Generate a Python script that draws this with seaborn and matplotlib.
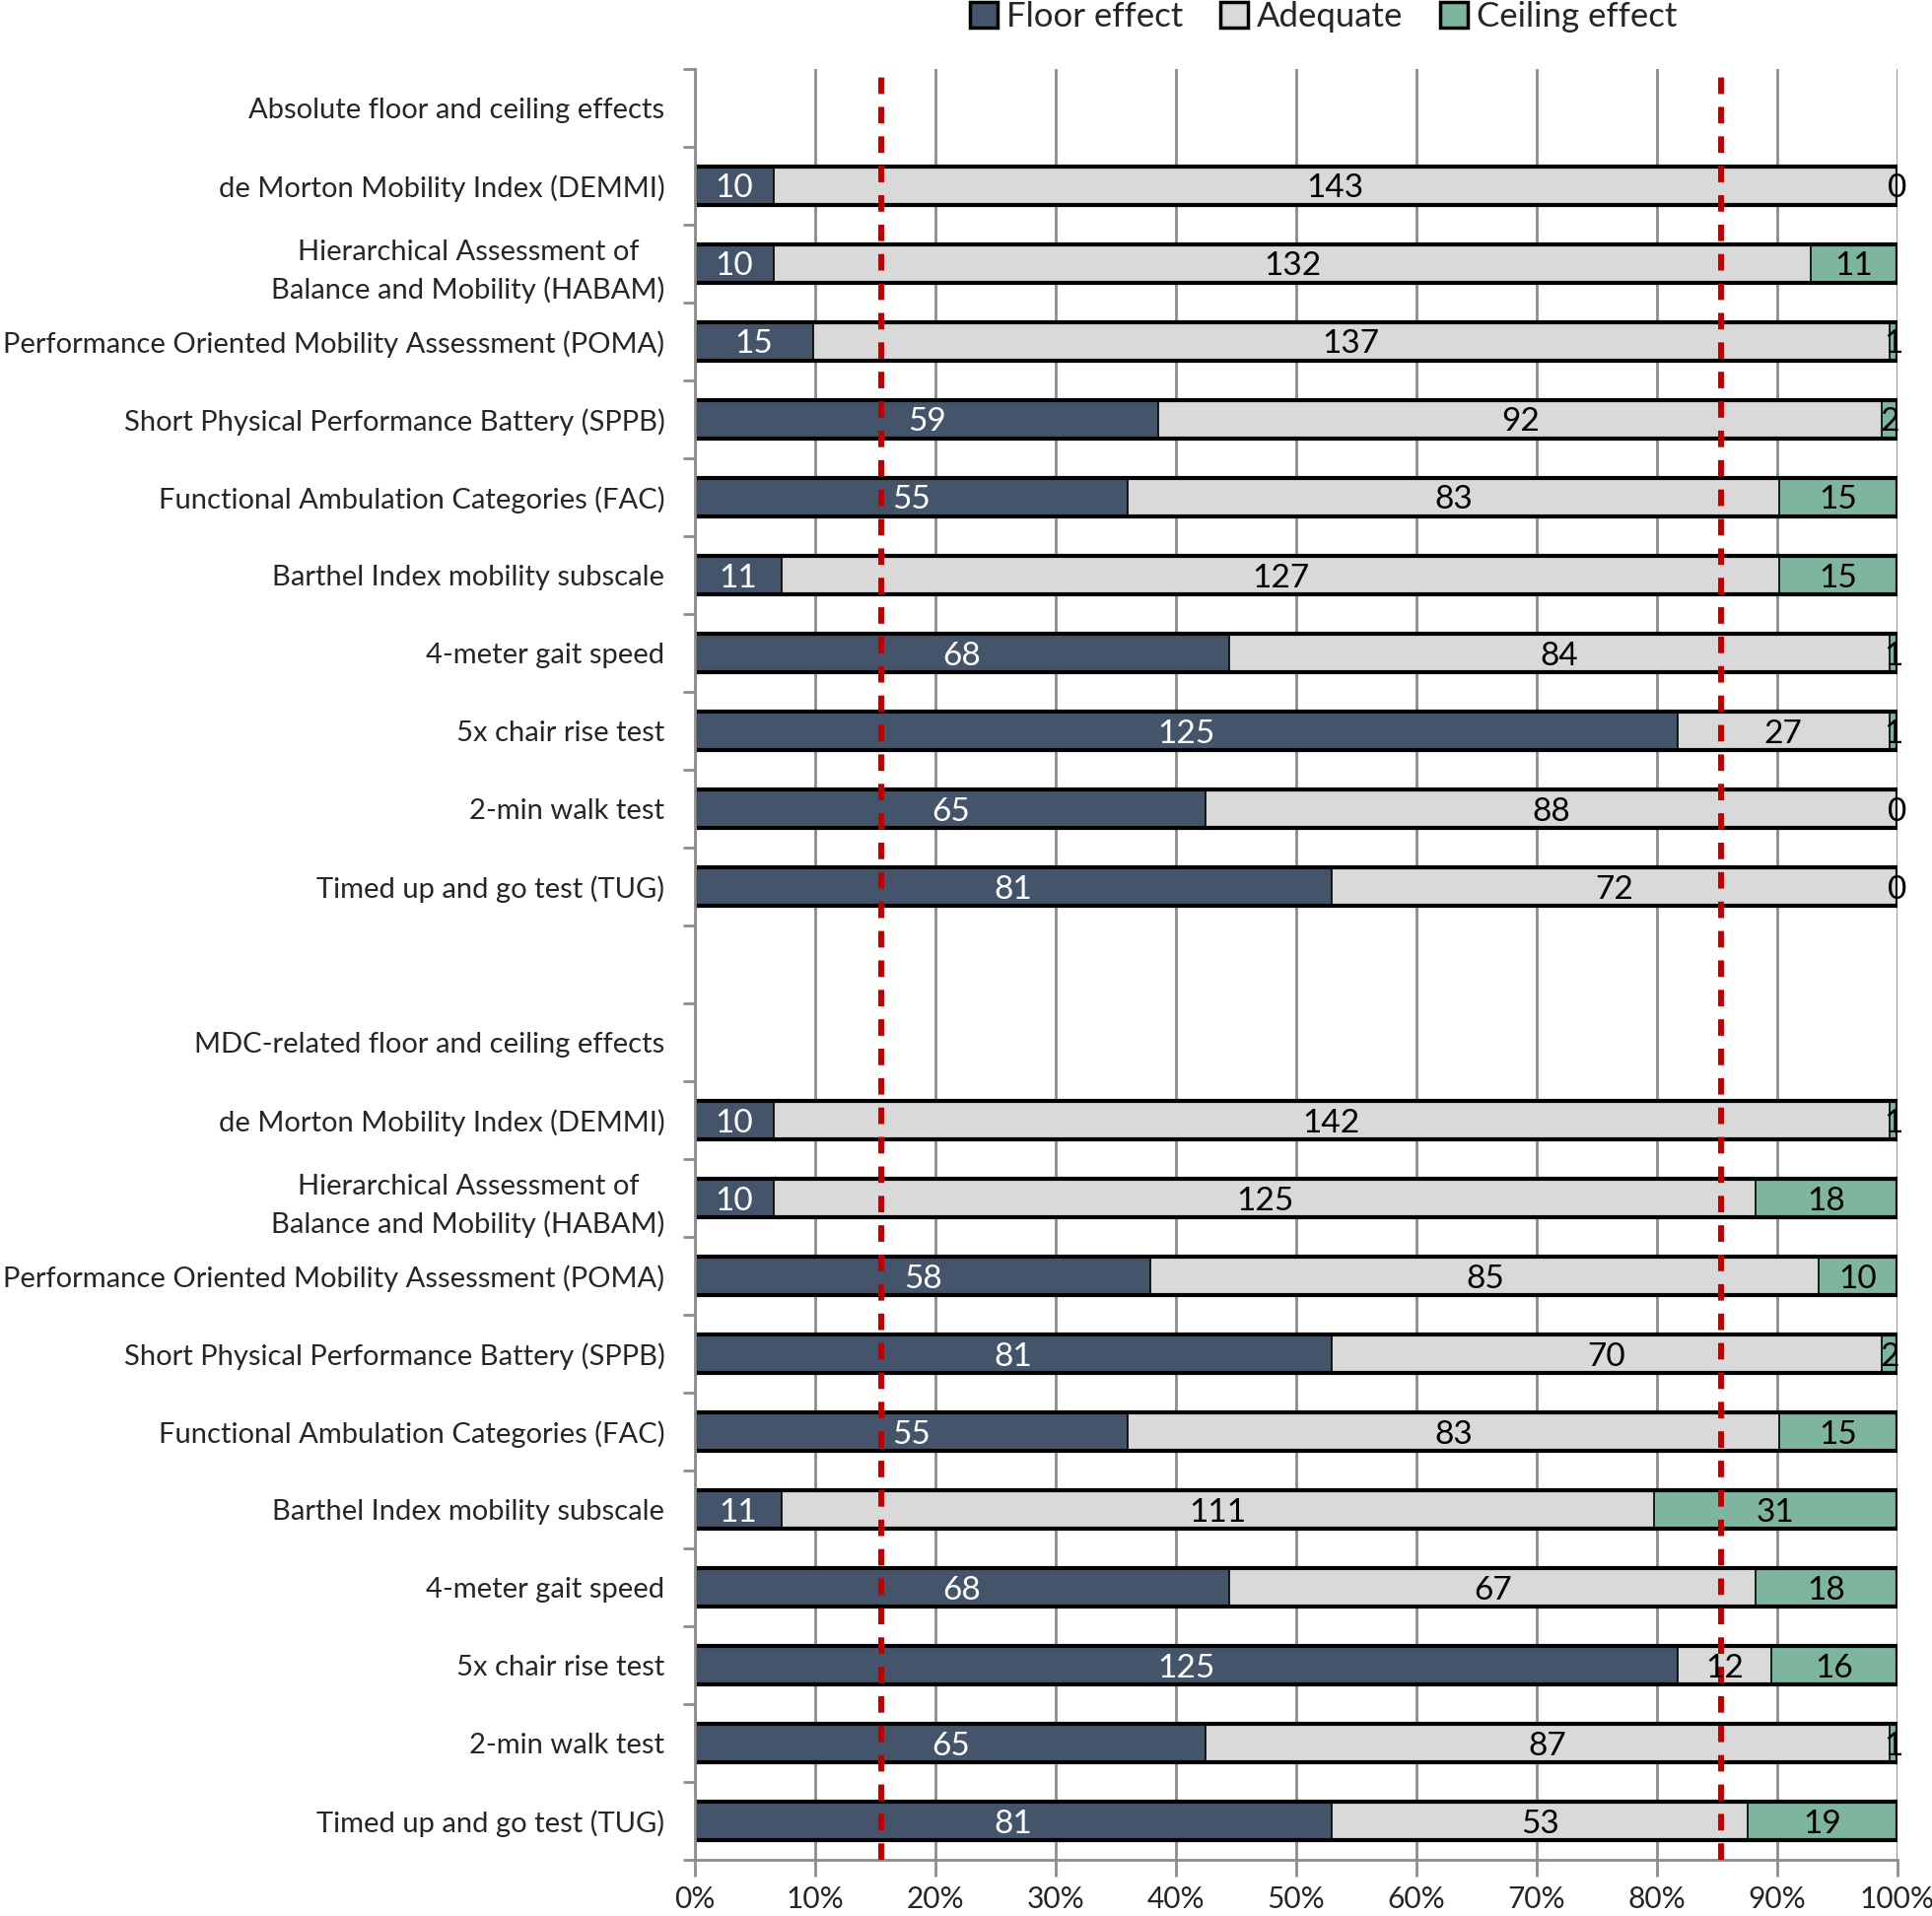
import numpy as np
import pandas as pd
import matplotlib
matplotlib.use("Agg")
import matplotlib.pyplot as plt
import seaborn as sns
from matplotlib.patches import Patch

# Data
measures = [
    "de Morton Mobility Index (DEMMI)",
    "Hierarchical Assessment of\nBalance and Mobility (HABAM)",
    "Performance Oriented Mobility Assessment (POMA)",
    "Short Physical Performance Battery (SPPB)",
    "Functional Ambulation Categories (FAC)",
    "Barthel Index mobility subscale",
    "4-meter gait speed",
    "5x chair rise test",
    "2-min walk test",
    "Timed up and go test (TUG)",
]
abs_floor = [10, 10, 15, 59, 55, 11, 68, 125, 65, 81]
abs_adequate = [143, 132, 137, 92, 83, 127, 84, 27, 88, 72]
abs_ceiling = [0, 11, 1, 2, 15, 15, 1, 1, 0, 0]
mdc_floor = [10, 10, 58, 81, 55, 11, 68, 125, 65, 81]
mdc_adequate = [142, 125, 85, 70, 83, 111, 67, 12, 87, 53]
mdc_ceiling = [1, 18, 10, 2, 15, 31, 18, 16, 1, 19]
thresholds = [15.5, 85.3]

row_labels = (["Absolute floor and ceiling effects"] + measures + [""]
              + ["MDC-related floor and ceiling effects"] + measures)
gap = [np.nan]
df = pd.DataFrame({
    "row": np.arange(len(row_labels)),
    "floor": gap + abs_floor + gap + gap + mdc_floor,
    "adequate": gap + abs_adequate + gap + gap + mdc_adequate,
    "ceiling": gap + abs_ceiling + gap + gap + mdc_ceiling,
})
total = df["floor"] + df["adequate"] + df["ceiling"]
df["p_floor"] = df["floor"] / total * 100
df["p_adeq"] = (df["floor"] + df["adequate"]) / total * 100
df["p_all"] = total / total * 100

c_floor, c_adeq, c_ceil = "#44546A", "#D9D9D9", "#7DB59E"
order = list(df["row"])

sns.set_theme(style="white")
plt.rcParams["font.family"] = ["Lato", "DejaVu Sans"]

fig = plt.figure(figsize=(19.6, 19.44), dpi=100)
ax = fig.add_axes([0.3597, 0.0293, 0.6224, 0.9347])

kw = dict(data=df, y="row", orient="y", order=order, width=0.5, saturation=1,
          errorbar=None, ax=ax, edgecolor="black", linewidth=1.2)
sns.barplot(x="p_all", color=c_ceil, **kw)
sns.barplot(x="p_adeq", color=c_adeq, **kw)
sns.barplot(x="p_floor", color=c_floor, **kw)
kw.update(linewidth=3)
sns.barplot(x="p_all", color="black", fill=False, **kw)

# value labels
fs = 24
for _, r in df.dropna().iterrows():
    y = r["row"]
    ax.text(r["p_floor"] / 2, y, f"{int(r['floor'])}", ha="center",
            va="center_baseline", color="white", fontsize=fs, zorder=6)
    ax.text((r["p_floor"] + r["p_adeq"]) / 2, y, f"{int(r['adequate'])}",
            ha="center", va="center_baseline", color="black", fontsize=fs, zorder=6)
    ax.text((r["p_adeq"] + 100) / 2, y, f"{int(r['ceiling'])}",
            ha="center", va="center_baseline", color="black", fontsize=fs, zorder=6)

for t in thresholds:
    ax.axvline(t, color="#C00000", lw=4.3, ls=(0, (2.8, 2.2)), zorder=5,
               ymin=0, ymax=0.997)

n = len(row_labels)
ax.set_ylim(n - 0.5, -0.5)
ax.set_yticks(np.arange(-0.5, n, 1), labels=[""] * (n + 1))
ax.set_yticks(np.arange(n), labels=row_labels, minor=True, fontsize=21,
              multialignment="center", linespacing=1.5)
ax.tick_params(axis="y", which="minor", length=0, pad=22)
ax.tick_params(axis="y", which="major", length=9, width=2, color="#8C8C8C",
               left=True)
ax.set_ylabel("")

ax.set_xlim(0, 100)
xt = np.arange(0, 101, 10)
ax.set_xticks(xt, labels=[f"{v}%" for v in xt], fontsize=21.5)
ax.tick_params(axis="x", length=12, width=2, color="#8C8C8C", bottom=True,
               pad=7)
ax.set_xlabel("")
ax.grid(axis="x", color="#8C8C8C", linewidth=2)
ax.grid(axis="y", visible=False)
ax.set_axisbelow(True)
for s in ["top", "right"]:
    ax.spines[s].set_visible(False)
for s in ["left", "bottom"]:
    ax.spines[s].set_color("#8C8C8C")
    ax.spines[s].set_linewidth(2)

handles = [Patch(facecolor=c, edgecolor="black", linewidth=2.5)
           for c in [c_floor, c_adeq, c_ceil]]
fig.legend(handles, ["Floor effect", "Adequate", "Ceiling effect"],
           loc="upper center", bbox_to_anchor=(0.685, 1.0155), ncol=3,
           frameon=False, fontsize=25, handlelength=0.8, handleheight=0.8,
           handletextpad=0.25, columnspacing=1.1)

fig.savefig("out.png", dpi=100)
